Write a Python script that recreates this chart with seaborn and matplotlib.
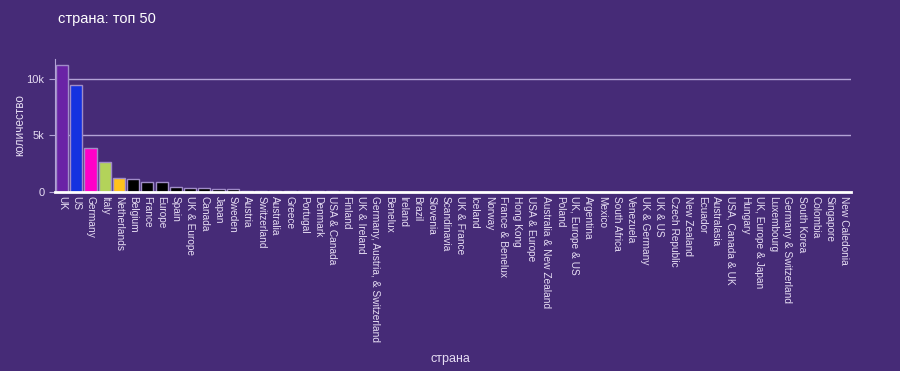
import matplotlib
matplotlib.use("Agg")
import matplotlib.pyplot as plt
import pandas as pd
import seaborn as sns
from matplotlib.ticker import FuncFormatter

countries = [
    "UK", "US", "Germany", "Italy", "Netherlands", "Belgium", "France", "Europe",
    "Spain", "UK & Europe", "Canada", "Japan", "Sweden", "Austria", "Switzerland",
    "Australia", "Greece", "Portugal", "Denmark", "USA & Canada", "Finland",
    "UK & Ireland", "Germany, Austria, & Switzerland", "Benelux", "Ireland", "Brazil",
    "Slovenia", "Scandinavia", "UK & France", "Iceland", "Norway", "France & Benelux",
    "Hong Kong", "USA & Europe", "Australia & New Zealand", "Poland", "UK, Europe & US",
    "Argentina", "Mexico", "South Africa", "Venezuela", "UK & Germany", "UK & US",
    "Czech Republic", "New Zealand", "Ecuador", "Australasia", "USA, Canada & UK",
    "Hungary", "UK, Europe & Japan", "Luxembourg", "Germany & Switzerland",
    "South Korea", "Colombia", "Singapore", "New Caledonia",
]
counts = [
    11200, 9470, 3870, 2680, 1270, 1120, 880, 860,
    470, 330, 320, 280, 270, 120, 110,
    100, 90, 70, 60, 50, 45,
    40, 35, 30, 28, 25,
    22, 20, 18, 16, 15, 14,
    12, 11, 10, 9, 8,
    7, 7, 6, 6, 5, 5,
    4, 4, 4, 3, 3,
    3, 2, 2, 2,
    2, 1, 1, 1,
]
bar_colors = (["#6a23a6", "#1532e0", "#ff00c8", "#b3d35a", "#ffc21c"]
              + ["#000000"] * 8 + ["#7f7f8a"] * 43)

bg = "#462b77"
fg = "#e6ddf3"

df = pd.DataFrame({"страна": countries, "количество": counts})

plt.rcParams["font.family"] = ["Liberation Sans", "DejaVu Sans"]
fig = plt.figure(figsize=(9, 3.71), dpi=100, facecolor=bg)
ax = fig.add_axes([0.061, 0.4825, 0.885, 0.3585])
ax.set_facecolor(bg)

sns.barplot(data=df, x="страна", y="количество", hue="страна",
            palette=bar_colors, legend=False, width=0.85, saturation=1,
            edgecolor="#a08cc8", linewidth=1, ax=ax)

ax.set_xlim(-0.5, len(countries) - 0.5)
ax.set_ylim(0, 11750)
ax.set_yticks([0, 5000, 10000])
ax.yaxis.set_major_formatter(FuncFormatter(lambda v, p: "0" if v == 0 else f"{int(v/1000)}k"))
ax.grid(axis="y", color="#b3a3d6", linewidth=1)
ax.set_axisbelow(True)

for s in ["top", "right"]:
    ax.spines[s].set_visible(False)
ax.spines["left"].set_color("#b3a3d6")
ax.spines["bottom"].set_color("white")
ax.spines["bottom"].set_linewidth(2)
ax.spines["bottom"].set_zorder(5)

ax.tick_params(axis="y", colors="#b3a3d6", labelcolor=fg, labelsize=8, length=4)
ax.tick_params(axis="x", length=0, labelcolor=fg, labelsize=7.3, pad=3)
plt.setp(ax.get_xticklabels(), rotation=-90, ha="center", va="top")

ax.set_xlabel("страна", color=fg, fontsize=9)
ax.set_ylabel("количество", color=fg, fontsize=8.5)
ax.xaxis.set_label_coords(0.497, -1.21)
ax.yaxis.set_label_coords(-0.036, 0.5)
fig.text(0.0645, 0.949, "страна: топ 50", color="white", fontsize=10.5, va="center")

fig.savefig("out.png", dpi=100, facecolor=bg)
